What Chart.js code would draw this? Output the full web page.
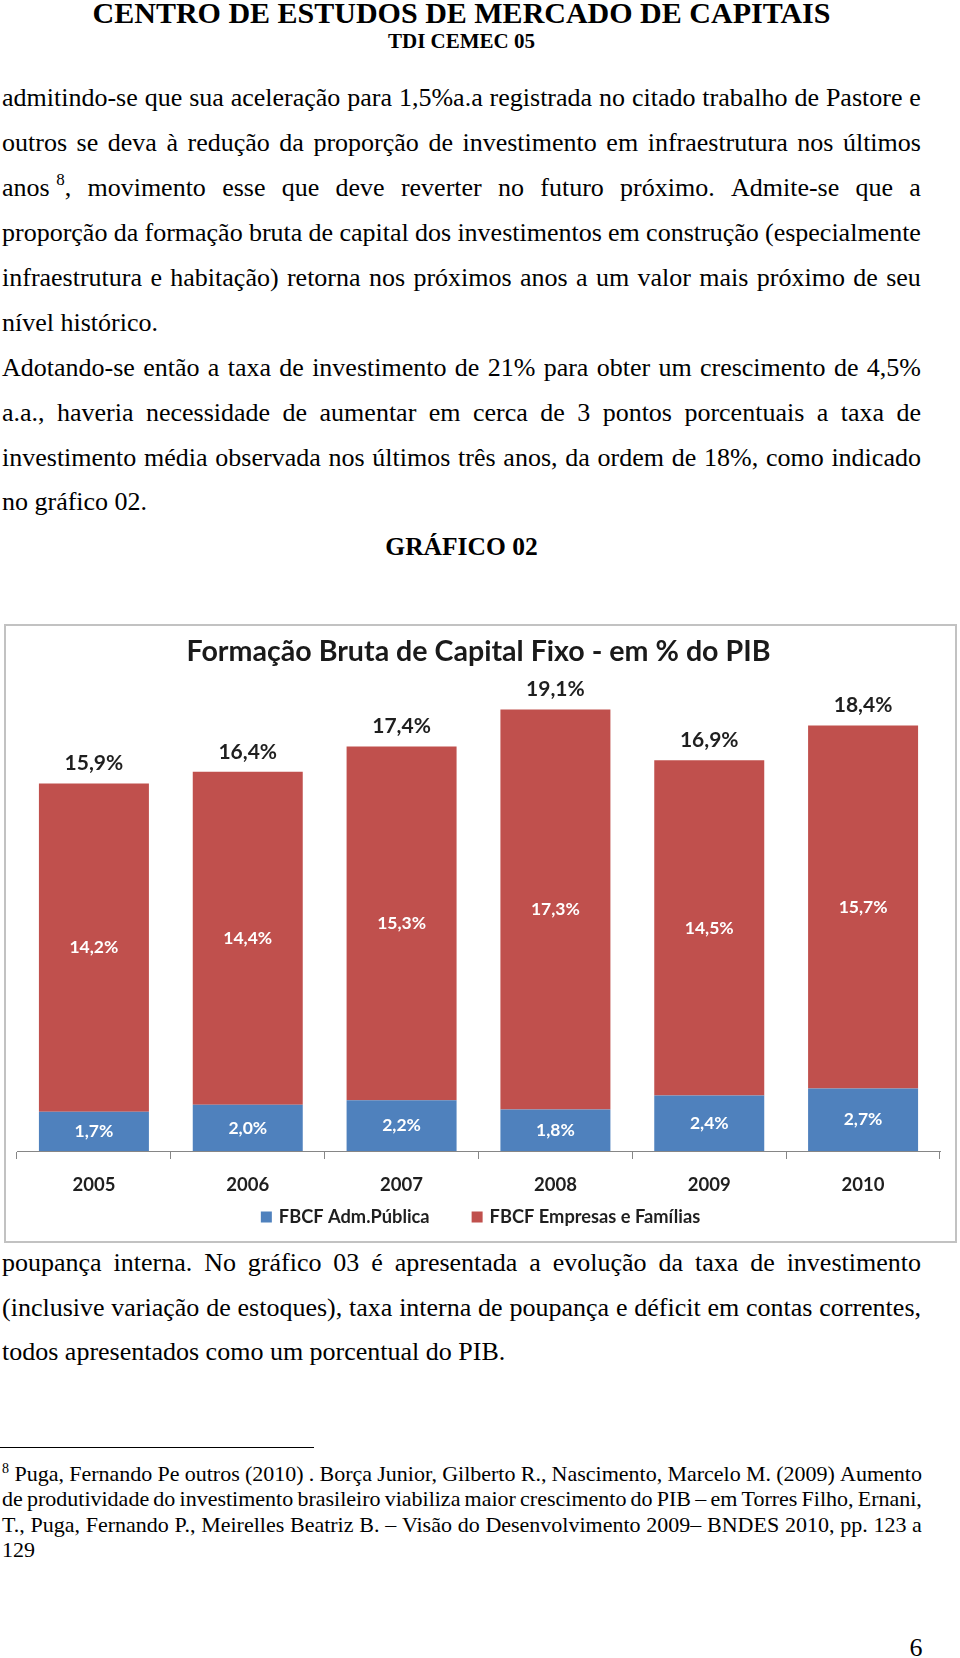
<!DOCTYPE html>
<html lang="pt-BR">
<head>
<meta charset="utf-8">
<title>CEMEC - Gráfico 02</title>
<script src="https://cdn.jsdelivr.net/npm/chart.js@4.4.1/dist/chart.umd.min.js"></script>
<style>
  html, body { margin: 0; padding: 0; background: #fff; }
  body {
    width: 960px; height: 1658px; position: relative; overflow: hidden;
    font-family: "Liberation Serif", "Times New Roman", serif; color: #000;
  }
  .abs { position: absolute; }
  .centro { left: 0; width: 923px; text-align: center; font-weight: bold; white-space: nowrap; }
  .texto { left: 2px; width: 919px; font-size: 26px; line-height: 44.9px; }
  .texto.pos { line-height: 44.5px; }
  .nota { left: 2px; width: 920px; font-size: 22px; line-height: 25.4px; }
  .j { display: flex; justify-content: space-between; white-space: nowrap; }
  .ult { white-space: nowrap; }
  .texto sup { font-size: 17px; position: relative; top: -11px; vertical-align: baseline; line-height: 0; }
  .nota sup { font-size: 14px; position: relative; top: -8px; vertical-align: baseline; line-height: 0; }
  #caixa { left: 4px; top: 624px; width: 949px; height: 615px; border: 2px solid #c2c2c2; }
  #fbcf { display: block; }
</style>
</head>
<body>

<div class="abs centro" style="top:-2px; font-size:30px; line-height:30px;">CENTRO DE ESTUDOS DE MERCADO DE CAPITAIS</div>
<div class="abs centro" style="top:31px; font-size:21px; line-height:21px;">TDI CEMEC 05</div>

<div class="abs texto" style="top:76.3px;">
  <div class="j">admitindo-se que sua aceleração para 1,5%a.a registrada no citado trabalho de Pastore e</div>
  <div class="j">outros se deva à redução da proporção de investimento em infraestrutura nos últimos</div>
  <div class="j">anos&nbsp;<sup>8</sup>, movimento esse que deve reverter no futuro próximo. Admite-se que a</div>
  <div class="j">proporção da formação bruta de capital dos investimentos em construção (especialmente</div>
  <div class="j">infraestrutura e habitação) retorna nos próximos anos a um valor mais próximo de seu</div>
  <div class="ult">nível histórico.</div>
  <div class="j">Adotando-se então a taxa de investimento de 21% para obter um crescimento de 4,5%</div>
  <div class="j">a.a., haveria necessidade de aumentar em cerca de 3 pontos porcentuais a taxa de</div>
  <div class="j">investimento média observada nos últimos três anos, da ordem de 18%, como indicado</div>
  <div class="ult">no gráfico 02.</div>
</div>

<div class="abs centro" style="top:534px; font-size:25.5px; line-height:26px;">GRÁFICO 02</div>

<div id="caixa" class="abs">
  <canvas id="fbcf" width="949" height="615"></canvas>
</div>

<div class="abs texto pos" style="top:1241px;">
  <div class="j">poupança interna. No gráfico 03 é apresentada a evolução da taxa de investimento</div>
  <div class="j">(inclusive variação de estoques), taxa interna de poupança e déficit em contas correntes,</div>
  <div class="ult">todos apresentados como um porcentual do PIB.</div>
</div>

<div class="abs" style="left:0; top:1447px; width:314px; height:0; border-top:1.5px solid #000;"></div>

<div class="abs nota" style="top:1461px;">
  <div class="j"><sup>8</sup>&nbsp;Puga, Fernando Pe outros (2010) . Borça Junior, Gilberto R., Nascimento, Marcelo M. (2009) Aumento</div>
  <div class="j">de produtividade do investimento brasileiro viabiliza maior crescimento do PIB – em Torres Filho, Ernani,</div>
  <div class="j">T., Puga, Fernando P., Meirelles Beatriz B. – Visão do Desenvolvimento 2009– BNDES 2010, pp. 123 a</div>
  <div class="ult">129</div>
</div>

<div class="abs" style="left:900px; top:1635px; width:32px; text-align:center; font-size:26px; line-height:26px;">6</div>

<script>
// justified lines: one span per word, spread over the line
document.querySelectorAll('.j').forEach(linha => {
  const palavras = linha.innerHTML.trim().split(/ +/)
  linha.innerHTML = palavras.map(p => '<span>' + p + '</span>').join('')
})

const anos = ['2005', '2006', '2007', '2008', '2009', '2010']
const admPublica = [1.7, 2.0, 2.2, 1.8, 2.4, 2.7]
const empresasFamilias = [14.2, 14.4, 15.3, 17.3, 14.5, 15.7]
const totalPib = [15.9, 16.4, 17.4, 19.1, 16.9, 18.4]
const nomesSeries = ['FBCF Adm.Pública', 'FBCF Empresas e Famílias']

const fonte = 'Lato, "Open Sans", sans-serif'
const pct = v => v.toFixed(1).replace('.', ',') + '%'

// value labels inside the segments and the total above each bar
const rotulos = {
  id: 'rotulos',
  afterDatasetsDraw(chart) {
    const ctx = chart.ctx
    ctx.save()
    ctx.textAlign = 'center'
    ctx.textBaseline = 'middle'
    ctx.font = 'bold 17.5px ' + fonte
    ctx.fillStyle = '#ffffff'
    chart.data.datasets.forEach((ds, d) => {
      chart.getDatasetMeta(d).data.forEach((barra, i) => {
        ctx.fillText(pct(ds.data[i]), barra.x, (barra.y + barra.base) / 2)
      })
    })
    ctx.font = 'bold 21px ' + fonte
    ctx.fillStyle = '#1f1f1f'
    const topo = chart.getDatasetMeta(chart.data.datasets.length - 1).data
    topo.forEach((barra, i) => ctx.fillText(pct(totalPib[i]), barra.x, barra.y - 20))
    ctx.restore()
  }
}

// Excel style legend: close under the axis labels, wide gap between the items
const legenda = {
  id: 'legenda',
  afterDraw(chart) {
    const ctx = chart.ctx
    const area = chart.chartArea
    const lado = 11, folga = 7, entre = 42
    const y = area.bottom + 66
    ctx.save()
    ctx.font = 'bold 18.25px ' + fonte
    ctx.textBaseline = 'middle'
    ctx.textAlign = 'left'
    const itens = chart.data.datasets.map(ds => ({
      texto: ds.label,
      cor: ds.backgroundColor,
      largura: lado + folga + ctx.measureText(ds.label).width
    }))
    const total = itens.reduce((s, it) => s + it.largura, 0) + entre * (itens.length - 1)
    let x = (area.left + area.right) / 2 + 2 - total / 2
    itens.forEach(it => {
      ctx.fillStyle = it.cor
      ctx.fillRect(x, y - lado / 2, lado, lado)
      ctx.fillStyle = '#1f1f1f'
      ctx.fillText(it.texto, x + lado + folga, y)
      x += it.largura + entre
    })
    ctx.restore()
  }
}

new Chart(document.getElementById('fbcf'), {
  type: 'bar',
  data: {
    labels: anos,
    datasets: [
      { label: nomesSeries[0], data: admPublica, backgroundColor: '#4f81bd', borderWidth: 0 },
      { label: nomesSeries[1], data: empresasFamilias, backgroundColor: '#c0504d', borderWidth: 0 }
    ]
  },
  options: {
    responsive: false,
    devicePixelRatio: 1,
    animation: false,
    layout: { padding: { left: 11, right: 15, top: 0, bottom: 45 } },
    datasets: { bar: { barPercentage: 0.715, categoryPercentage: 1 } },
    scales: {
      x: {
        stacked: true,
        grid: { drawOnChartArea: false, tickLength: 8, color: '#868686', offset: true },
        border: { color: '#868686', width: 1 },
        ticks: {
          color: '#1f1f1f',
          padding: 14.6,
          font: { family: fonte, weight: 'bold', size: 18.5 }
        },
        afterFit(scale) { scale.height = 45 }
      },
      y: { stacked: true, display: false, min: 0, max: 20 }
    },
    plugins: {
      title: {
        display: true,
        text: 'Formação Bruta de Capital Fixo - em % do PIB',
        color: '#1a1a1a',
        font: { family: fonte, weight: 'bold', size: 28.6, lineHeight: 1.2 },
        padding: { top: 9, bottom: 19.3 }
      },
      legend: { display: false },
      tooltip: { enabled: false }
    }
  },
  plugins: [rotulos, legenda]
})
</script>
</body>
</html>
